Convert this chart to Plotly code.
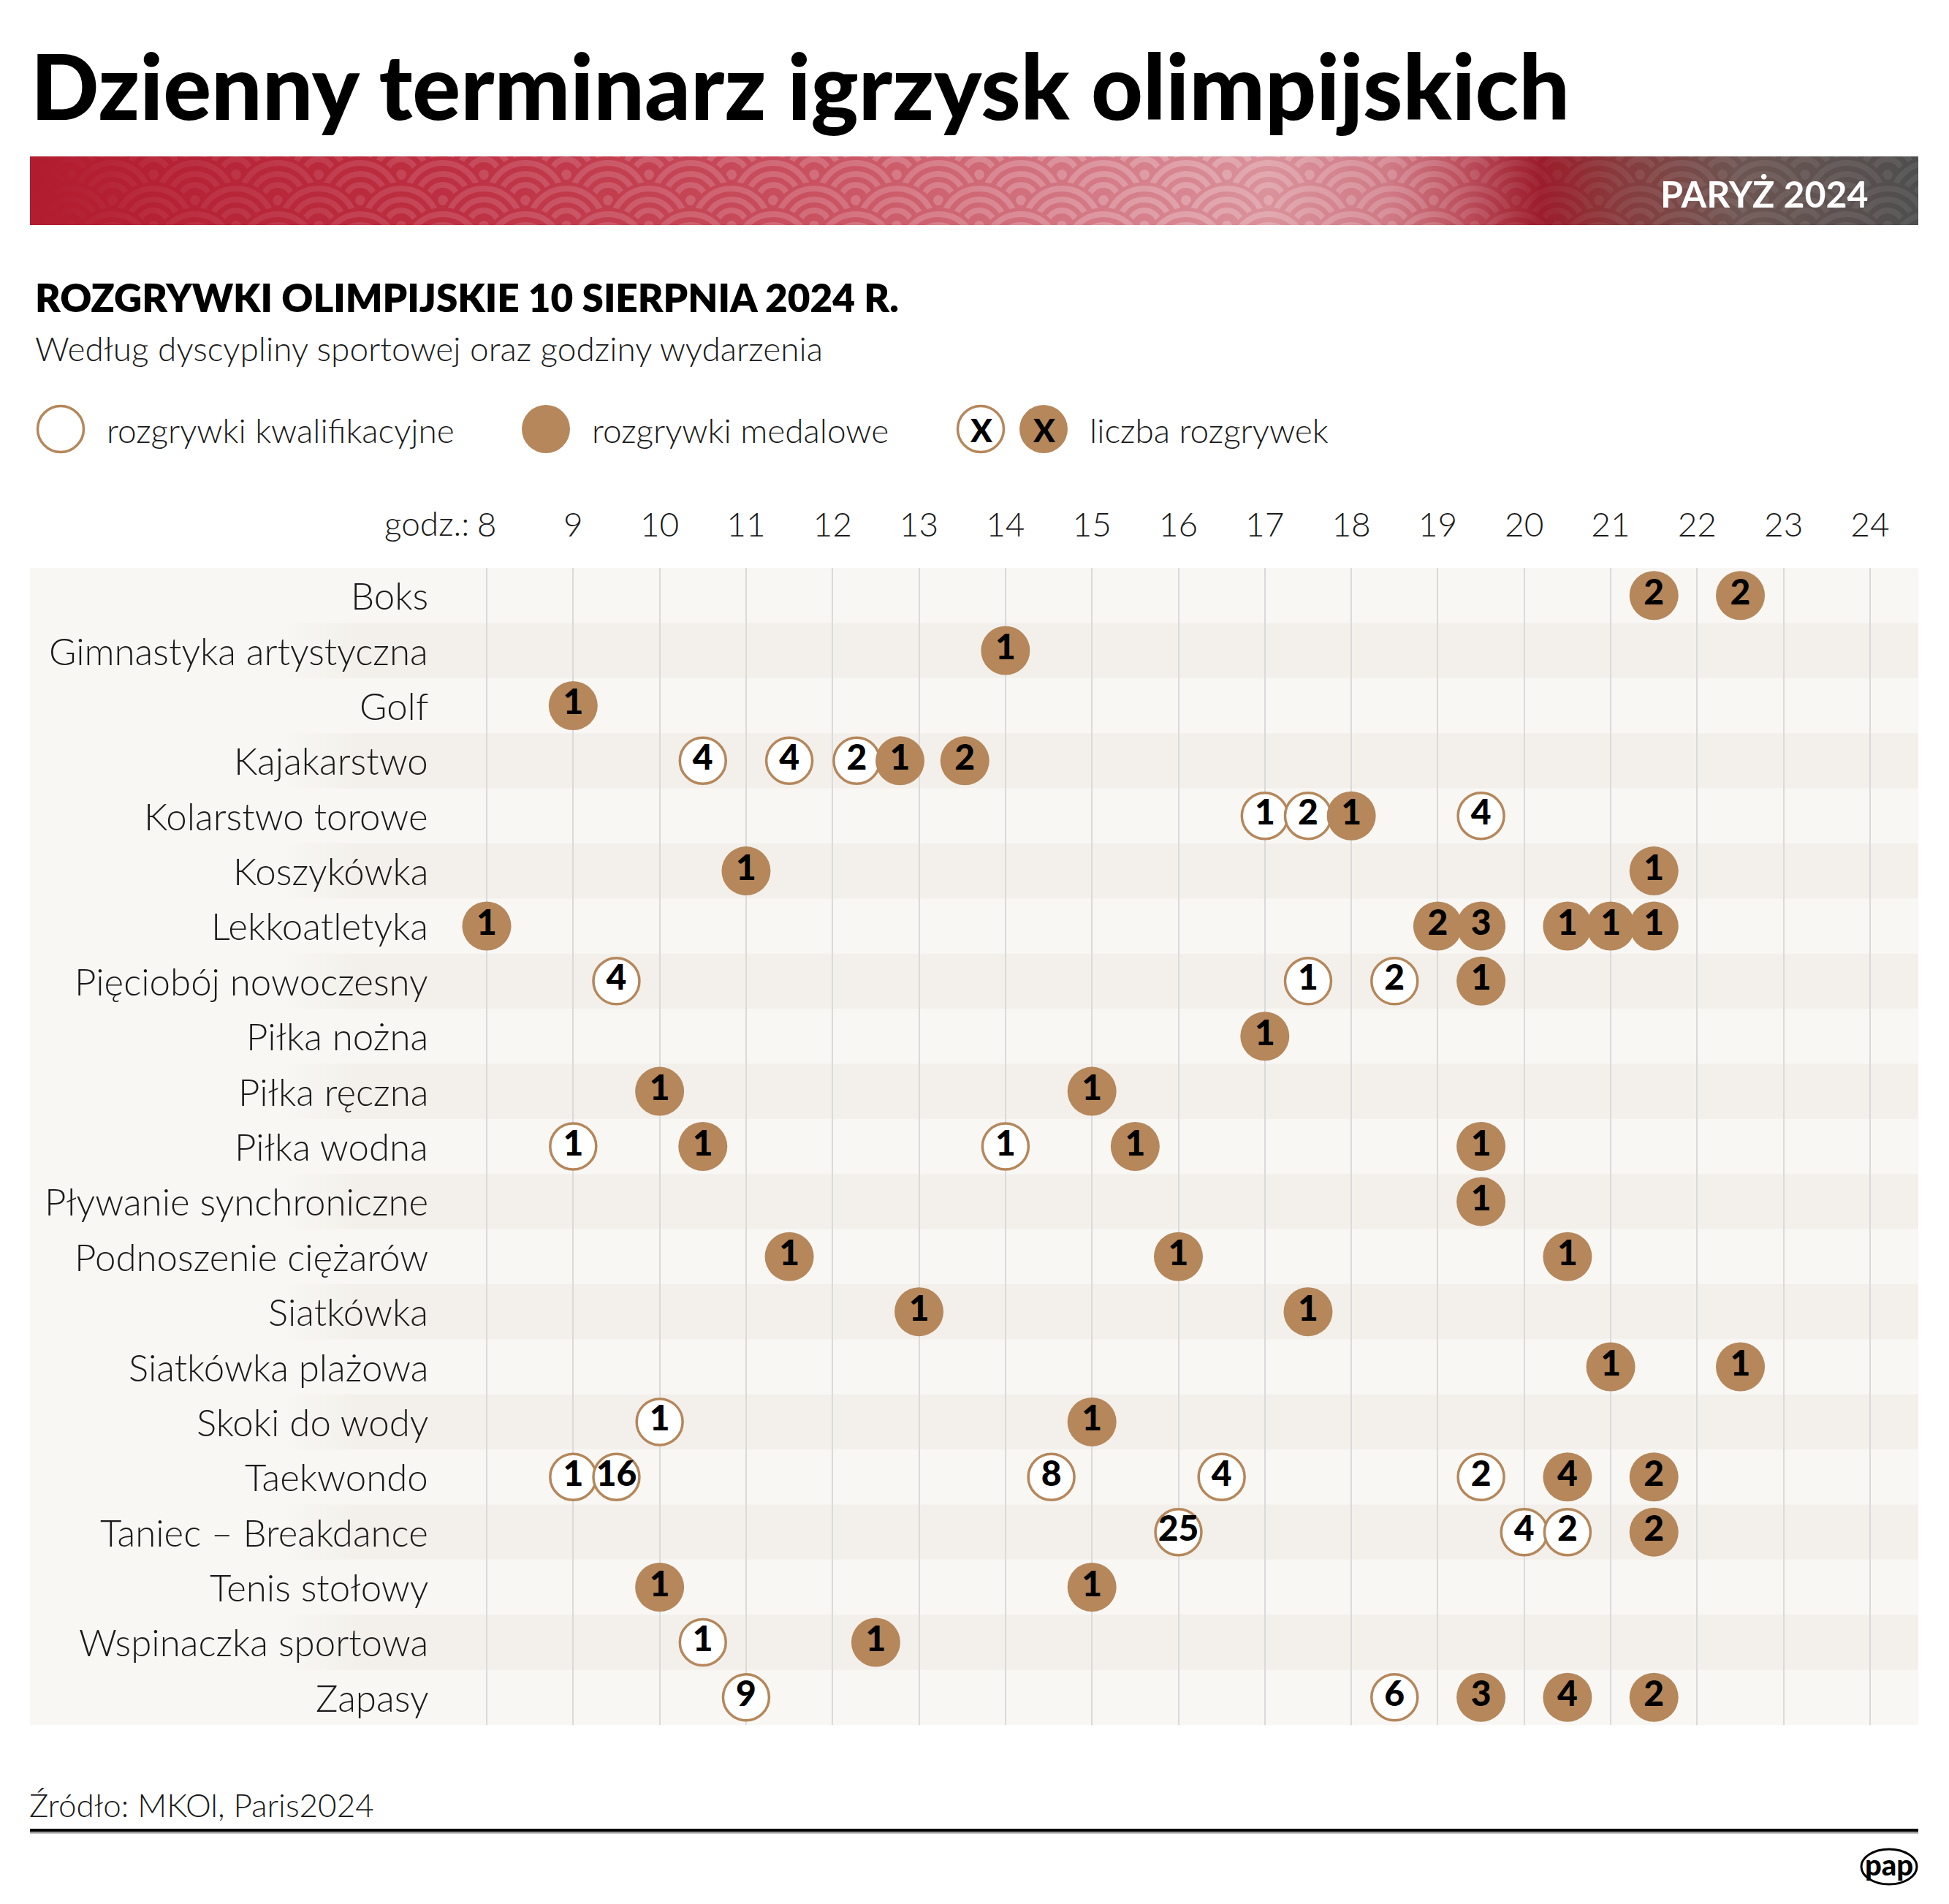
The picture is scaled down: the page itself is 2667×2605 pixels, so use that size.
import base64
import plotly.graph_objects as go

# ---------------- data ----------------
categories = [
    "Boks", "Gimnastyka artystyczna", "Golf", "Kajakarstwo", "Kolarstwo torowe",
    "Koszykówka", "Lekkoatletyka", "Pięciobój nowoczesny", "Piłka nożna",
    "Piłka ręczna", "Piłka wodna", "Pływanie synchroniczne", "Podnoszenie ciężarów",
    "Siatkówka", "Siatkówka plażowa", "Skoki do wody", "Taekwondo",
    "Taniec – Breakdance", "Tenis stołowy", "Wspinaczka sportowa", "Zapasy",
]

# qualifying events (open circles)
qual_sport = [
    "Kajakarstwo", "Kajakarstwo", "Kajakarstwo",
    "Kolarstwo torowe", "Kolarstwo torowe", "Kolarstwo torowe",
    "Pięciobój nowoczesny", "Pięciobój nowoczesny", "Pięciobój nowoczesny",
    "Piłka wodna", "Piłka wodna",
    "Skoki do wody",
    "Taekwondo", "Taekwondo", "Taekwondo", "Taekwondo", "Taekwondo",
    "Taniec – Breakdance", "Taniec – Breakdance", "Taniec – Breakdance",
    "Wspinaczka sportowa",
    "Zapasy", "Zapasy",
]
qual_hour = [
    10.5, 11.5, 12.28,
    17, 17.5, 19.5,
    9.5, 17.5, 18.5,
    9, 14,
    10,
    9, 9.5, 14.53, 16.5, 19.5,
    16, 20, 20.5,
    10.5,
    11, 18.5,
]
qual_count = [
    4, 4, 2,
    1, 2, 4,
    4, 1, 2,
    1, 1,
    1,
    1, 16, 8, 4, 2,
    25, 4, 2,
    1,
    9, 6,
]

# medal events (filled circles)
medal_sport = [
    "Boks", "Boks",
    "Gimnastyka artystyczna",
    "Golf",
    "Kajakarstwo", "Kajakarstwo",
    "Kolarstwo torowe",
    "Koszykówka", "Koszykówka",
    "Lekkoatletyka", "Lekkoatletyka", "Lekkoatletyka", "Lekkoatletyka", "Lekkoatletyka", "Lekkoatletyka",
    "Pięciobój nowoczesny",
    "Piłka nożna",
    "Piłka ręczna", "Piłka ręczna",
    "Piłka wodna", "Piłka wodna", "Piłka wodna",
    "Pływanie synchroniczne",
    "Podnoszenie ciężarów", "Podnoszenie ciężarów", "Podnoszenie ciężarów",
    "Siatkówka", "Siatkówka",
    "Siatkówka plażowa", "Siatkówka plażowa",
    "Skoki do wody",
    "Taekwondo", "Taekwondo",
    "Taniec – Breakdance",
    "Tenis stołowy", "Tenis stołowy",
    "Wspinaczka sportowa",
    "Zapasy", "Zapasy", "Zapasy",
]
medal_hour = [
    21.5, 22.5,
    14,
    9,
    12.78, 13.53,
    18,
    11, 21.5,
    8, 19, 19.5, 20.5, 21, 21.5,
    19.5,
    17,
    10, 15,
    10.5, 15.5, 19.5,
    19.5,
    11.5, 16, 20.5,
    13, 17.5,
    21, 22.5,
    15,
    20.5, 21.5,
    21.5,
    10, 15,
    12.5,
    19.5, 20.5, 21.5,
]
medal_count = [
    2, 2,
    1,
    1,
    1, 2,
    1,
    1, 1,
    1, 2, 3, 1, 1, 1,
    1,
    1,
    1, 1,
    1, 1, 1,
    1,
    1, 1, 1,
    1, 1,
    1, 1,
    1,
    4, 2,
    2,
    1, 1,
    1,
    3, 4, 2,
]

hour_ticks = list(range(8, 25))
hour_labels = [str(h) for h in hour_ticks]

# ---------------- layout geometry (screen px, page has 8px body margin) ----------------
SH = 8
W, H = 2667 - 2 * SH, 2605 - 2 * SH
L, R, T, B = 41, 2625, 777, 2360          # plot area in screen coordinates
PX_PER_HOUR = 118.3125
X_AT_8 = 666
X0 = 8 - (X_AT_8 - L) / PX_PER_HOUR
X1 = 24 + (R - (X_AT_8 + 16 * PX_PER_HOUR)) / PX_PER_HOUR

BROWN = "#b5875b"
FONT = "Lato"
TXT = "#1a1a1a"


def px(x):
    return (x - L) / (R - L)


def py(y):
    return (B - y) / (B - T)


def data_x(xpix):
    return X0 + (xpix - L) / PX_PER_HOUR


# ---------------- banner (svg) ----------------
bw, bh = R - L, 94
stops = [
    (0.00, "#b21c2f"), (0.22, "#bd2f42"), (0.41, "#c9505f"), (0.565, "#d47a86"),
    (0.656, "#da929b"), (0.72, "#cf7a85"), (0.761, "#bb4d5b"), (0.80, "#9c1c2b"),
    (0.84, "#883a3c"), (0.906, "#6c5552"), (1.00, "#4e4e4e"),
]
wstops = [
    (0.0, 0.0), (0.06, 0.05), (0.2, 0.12), (0.45, 0.18), (0.62, 0.24),
    (0.74, 0.16), (0.80, 0.04), (0.86, 0.08), (1.0, 0.07),
]
svg = [f'<svg xmlns="http://www.w3.org/2000/svg" width="{bw}" height="{bh}" '
       f'viewBox="0 0 {bw} {bh}" preserveAspectRatio="none"><defs>']
svg.append('<linearGradient id="bg" x1="0" x2="1" y1="0" y2="0">')
for o, c in stops:
    svg.append(f'<stop offset="{o}" stop-color="{c}"/>')
svg.append('</linearGradient><linearGradient id="wg" x1="0" x2="1" y1="0" y2="0">')
for o, a in wstops:
    svg.append(f'<stop offset="{o}" stop-color="#ffffff" stop-opacity="{a}"/>')
svg.append('</linearGradient>')
svg.append(f'<mask id="m" maskUnits="userSpaceOnUse" x="0" y="0" width="{bw}" height="{bh}">')
svg.append(f'<rect x="0" y="0" width="{bw}" height="{bh}" fill="black"/>')
step = 113
for k, cy in enumerate([-45, -10, 25, 60, 95, 130]):
    off = 56 if k % 2 == 0 else 0
    cx = off - step
    while cx < bw + step:
        svg.append(f'<circle cx="{cx}" cy="{cy}" r="60" fill="black"/>')
        svg.append(f'<circle cx="{cx}" cy="{cy}" r="7" fill="white"/>')
        for r in (21, 36, 51):
            svg.append(f'<circle cx="{cx}" cy="{cy}" r="{r}" fill="none" stroke="white" stroke-width="8"/>')
        cx += step
svg.append('</mask></defs>')
svg.append(f'<rect x="0" y="0" width="{bw}" height="{bh}" fill="url(#bg)"/>')
svg.append(f'<rect x="0" y="0" width="{bw}" height="{bh}" fill="url(#wg)" mask="url(#m)"/>')
svg.append('</svg>')
banner_src = "data:image/svg+xml;base64," + base64.b64encode("".join(svg).encode()).decode()

# ---------------- figure ----------------
fig = go.Figure()

fig.add_trace(go.Scatter(
    x=qual_hour, y=qual_sport, mode="markers+text",
    text=[str(c) for c in qual_count], textposition="middle center",
    textfont=dict(family=FONT, size=48, color="black", weight=900),
    marker=dict(symbol="circle", size=63, color="white", line=dict(color=BROWN, width=3.5)),
    hoverinfo="skip", cliponaxis=False, showlegend=False,
))
fig.add_trace(go.Scatter(
    x=medal_hour, y=medal_sport, mode="markers+text",
    text=[str(c) for c in medal_count], textposition="middle center",
    textfont=dict(family=FONT, size=48, color="black", weight=900),
    marker=dict(symbol="circle", size=67, color=BROWN, line=dict(width=0)),
    hoverinfo="skip", cliponaxis=False, showlegend=False,
))

shapes = []
# alternating row stripes (darker rows fade in on the left)
DARK = "#f3f0eb"
for i, _ in enumerate(categories):
    if i % 2 == 1:
        shapes.append(dict(type="rect", xref="paper", yref="y", x0=px(480), x1=1,
                           y0=i - 0.5, y1=i + 0.5, fillcolor=DARK, line=dict(width=0),
                           layer="below"))
        n = 8
        for k in range(n):
            a = 396 + k * (480 - 396) / n
            b = 396 + (k + 1) * (480 - 396) / n
            shapes.append(dict(type="rect", xref="paper", yref="y", x0=px(a), x1=px(b) + 0.0002,
                               y0=i - 0.5, y1=i + 0.5, fillcolor=DARK, opacity=(k + 0.5) / n,
                               line=dict(width=0), layer="below"))


def circ(cx, cy, r, fill, line_color=None, lw=0):
    return dict(type="circle", xref="paper", yref="paper",
                x0=px(cx - r), x1=px(cx + r), y0=py(cy + r), y1=py(cy - r),
                fillcolor=fill, line=dict(color=line_color or fill, width=lw), layer="above")


# legend circles
shapes.append(circ(83, 587, 31.5, "white", BROWN, 3.5))
shapes.append(circ(747, 587, 33, BROWN))
shapes.append(circ(1342, 587, 31.5, "white", BROWN, 3.5))
shapes.append(circ(1428, 587, 33, BROWN))

# footer rule
shapes.append(dict(type="line", xref="paper", yref="paper", x0=0, x1=1,
                   y0=py(2507.5), y1=py(2507.5), line=dict(color="#8a8a8a", width=2)))
shapes.append(dict(type="line", xref="paper", yref="paper", x0=0, x1=1,
                   y0=py(2504), y1=py(2504), line=dict(color="black", width=4)))
# pap logo ellipse
shapes.append(dict(type="circle", xref="paper", yref="paper",
                   x0=px(2547), x1=px(2623), y0=py(2578), y1=py(2530),
                   fillcolor="white", line=dict(color="black", width=3)))

annotations = []


def ann(text, x, y, size, weight=300, color=TXT, xanchor="left", xref="paper", yref="paper", **kw):
    annotations.append(dict(text=text, x=x, y=y, xref=xref, yref=yref, showarrow=False,
                            xanchor=xanchor, yanchor="middle",
                            font=dict(family=FONT, size=size, color=color, weight=weight), **kw))


ann("Dzienny terminarz igrzysk olimpijskich", px(40), py(116), 123, weight=900, color="black")
ann("PARYŻ 2024", px(2558), py(265), 50, weight=700, color="white", xanchor="right")
ann("ROZGRYWKI OLIMPIJSKIE 10 SIERPNIA 2024 R.", px(46), py(407), 53, weight=800, color="black")
ann("Według dyscypliny sportowej oraz godziny wydarzenia", px(46), py(477), 46, weight=300)
ann("rozgrywki kwalifikacyjne", px(144), py(589), 46, weight=300)
ann("rozgrywki medalowe", px(808), py(589), 46, weight=300)
ann("liczba rozgrywek", px(1489), py(589), 46, weight=300)
ann("X", px(1342), py(588), 44, weight=900, color="black", xanchor="center")
ann("X", px(1428), py(588), 44, weight=900, color="black", xanchor="center")
ann("godz.:", 8, py(715), 46, weight=300, xanchor="right", xref="x", xshift=-22)
ann("Źródło: MKOl, Paris2024", px(38), py(2469), 44, weight=300)
ann("pap", px(2585), py(2551), 40, weight=900, color="black", xanchor="center")

# row labels
for cat in categories:
    ann(cat, data_x(588), cat, 51, weight=300, xanchor="right", xref="x", yref="y")

fig.update_layout(
    width=W, height=H,
    margin=dict(l=L - SH, r=W - (R - SH), t=T - SH, b=H - (B - SH), pad=0),
    paper_bgcolor="white", plot_bgcolor="#f8f7f4",
    shapes=shapes, annotations=annotations,
    images=[dict(source=banner_src, xref="paper", yref="paper", x=0, y=py(214),
                 sizex=1, sizey=bh / (B - T), sizing="stretch",
                 xanchor="left", yanchor="top", layer="above")],
    xaxis=dict(range=[X0, X1], side="top", tickvals=hour_ticks, ticktext=hour_labels,
               showgrid=True, gridcolor="#dadada", gridwidth=2, zeroline=False,
               showline=False, ticks="", ticklabelstandoff=33,
               tickfont=dict(family=FONT, size=46, color=TXT, weight=300), fixedrange=True),
    yaxis=dict(type="category", categoryorder="array", categoryarray=categories,
               range=[len(categories) - 0.5, -0.5], showgrid=False, zeroline=False,
               showticklabels=False, showline=False, ticks="", fixedrange=True),
    font=dict(family=FONT),
)

fig.write_html("out.html")
